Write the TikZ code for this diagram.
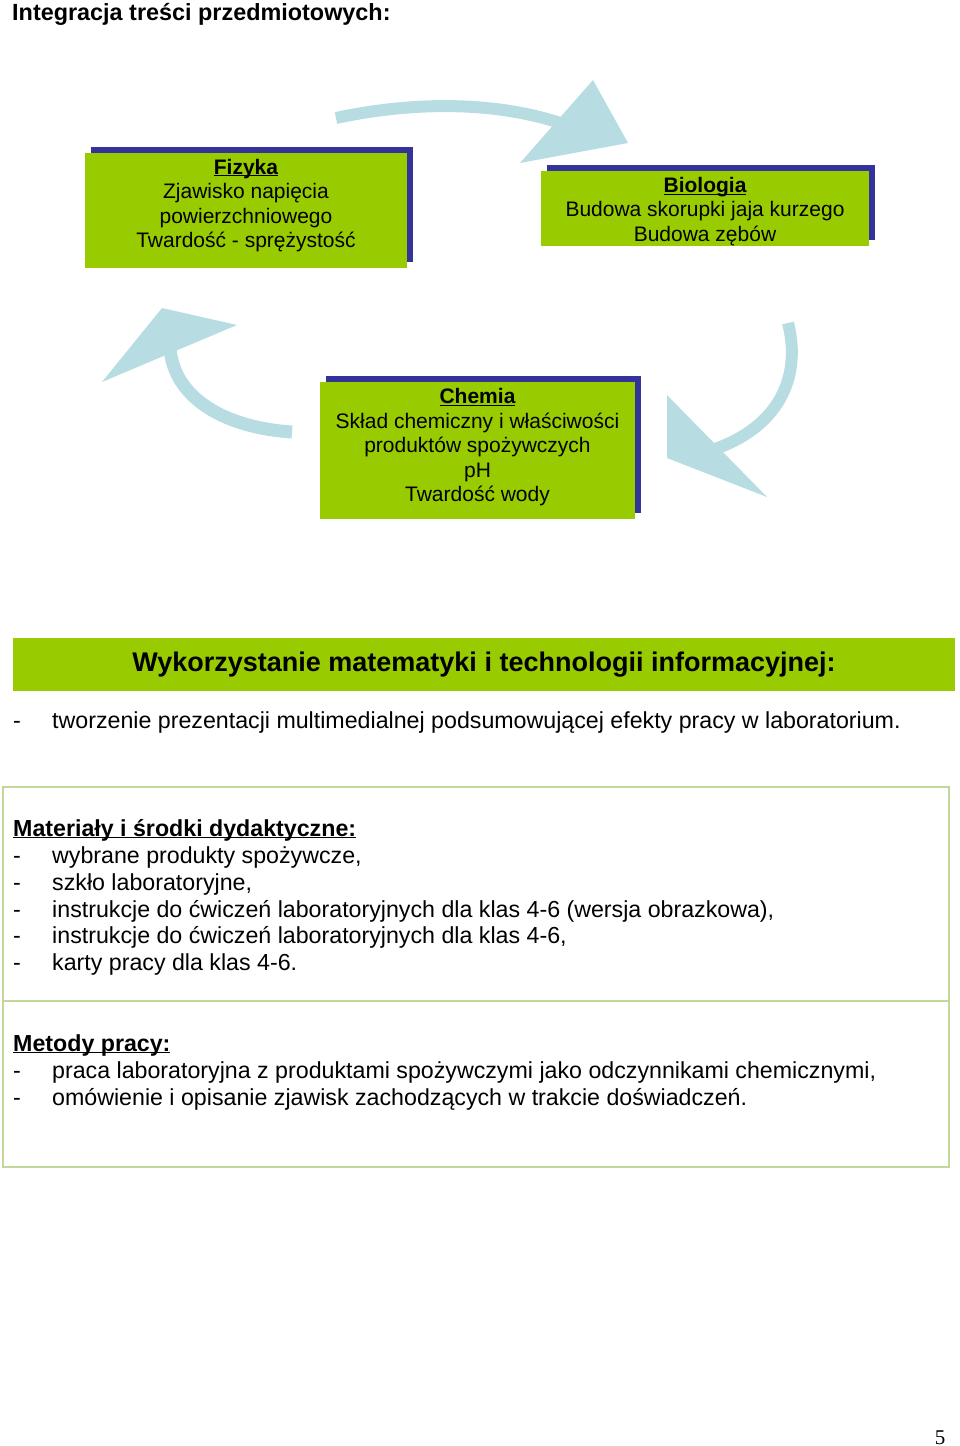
\documentclass[tikz,border=0pt]{standalone}
\usepackage{fontspec}
\setmainfont{Liberation Sans}
\newfontfamily\pagefont{Liberation Serif}
\usepackage{tikz}
\usetikzlibrary{shadows}

\definecolor{leafgreen}{RGB}{153,204,0}
\definecolor{boxnavy}{RGB}{51,51,153}
\definecolor{arrowblue}{RGB}{183,221,227}
\definecolor{tableline}{RGB}{195,214,155}

\newcommand{\headul}[1]{\textbf{\underline{\raisebox{0pt}[\height][0pt]{#1}}}}

\tikzset{
	subject/.style={fill=leafgreen,inner sep=0pt,
		drop shadow={shadow xshift=6pt,shadow yshift=6pt,fill=boxnavy,opacity=1}},
	subjtext/.style={align=center,inner sep=0pt,font=\fontsize{21}{24.5}\selectfont},
	bodytext/.style={anchor=base west,inner sep=0pt,font=\fontsize{23.2}{27}\selectfont},
	curvearrow/.style={arrowblue,line width=12pt},
}

\begin{document}
\begin{tikzpicture}[x=1pt,y=-1pt]
	\useasboundingbox (0,0) rectangle (960,1446);
	\node[bodytext,font=\fontsize{23.4}{27}\selectfont\bfseries] (title) at (12,20) {Integracja treści przedmiotowych:};
	% curved arrows
	\draw[curvearrow] (336,118) .. controls (420,100) and (500,103) .. (560,123);
	\fill[arrowblue] (593,80) -- (628,143) -- (520,163) -- cycle;
	\draw[curvearrow,line width=13pt] (292,432) .. controls (228,428) and (174,400) .. (170,348);
	\fill[arrowblue] (162,308) -- (237,325) -- (102,382) -- cycle;
	\draw[curvearrow] (788,323) .. controls (802,378) and (778,428) .. (712,450);
	\fill[arrowblue] (667,395) -- (767,497) -- (667,458) -- cycle;
	% subject boxes
	\node[subject,minimum width=322pt,minimum height=115pt] (fizyka) at (246,210.5) {};
	\node[subject,minimum width=328pt,minimum height=75pt] (biologia) at (705,208.5) {};
	\node[subject,minimum width=315pt,minimum height=137pt] (chemia) at (477.5,450.5) {};
	\node[subjtext] (fizykatxt) at ([yshift=5pt]fizyka.center)
		{\headul{Fizyka}\\Zjawisko napięcia\\powierzchniowego\\Twardość - sprężystość};
	\node[subjtext] (biologiatxt) at ([yshift=-3pt]biologia.center)
		{\headul{Biologia}\\Budowa skorupki jaja kurzego\\Budowa zębów};
	\node[subjtext] (chemiatxt) at ([yshift=3pt]chemia.center)
		{\headul{Chemia}\\Skład chemiczny i właściwości\\produktów spożywczych\\pH\\Twardość wody};
	% mathematics and IT
	\node[fill=leafgreen,minimum width=942pt,minimum height=53pt,inner sep=0pt,
		font=\fontsize{27}{30}\selectfont\bfseries] (matinf) at (484,664.5)
		{Wykorzystanie matematyki i technologii informacyjnej:};
	\node[bodytext] (dash0) at (13,728) {-};
	\node[bodytext] (prez) at (52,728) {tworzenie prezentacji multimedialnej podsumowującej efekty pracy w laboratorium.};
	% table
	\draw[tableline,line width=1.5pt] (3,787) rectangle (949,1167);
	\draw[tableline,line width=1.5pt] (3,1001) -- (949,1001);
	\node[bodytext] (mat) at (13,836) {\headul{Materiały i środki dydaktyczne:}};
	\node[bodytext] (mat1) at (52,863) {wybrane produkty spożywcze,};
	\node[bodytext] (mat2) at (52,890) {szkło laboratoryjne,};
	\node[bodytext] (mat3) at (52,917) {instrukcje do ćwiczeń laboratoryjnych dla klas 4-6 (wersja obrazkowa),};
	\node[bodytext] (mat4) at (52,943) {instrukcje do ćwiczeń laboratoryjnych dla klas 4-6,};
	\node[bodytext] (mat5) at (52,970) {karty pracy dla klas 4-6.};
	\node[bodytext] (met) at (13,1051) {\headul{Metody pracy:}};
	\node[bodytext] (met1) at (52,1078) {praca laboratoryjna z produktami spożywczymi jako odczynnikami chemicznymi,};
	\node[bodytext] (met2) at (52,1105) {omówienie i opisanie zjawisk zachodzących w trakcie doświadczeń.};
	\foreach \y in {863,890,917,943,970,1078,1105}
		\node[bodytext] (dash\y) at (13,\y) {-};
	\node[anchor=base,inner sep=0pt,font=\pagefont\fontsize{21}{24}\selectfont] (page) at (940,1444) {5};
\end{tikzpicture}
\end{document}
